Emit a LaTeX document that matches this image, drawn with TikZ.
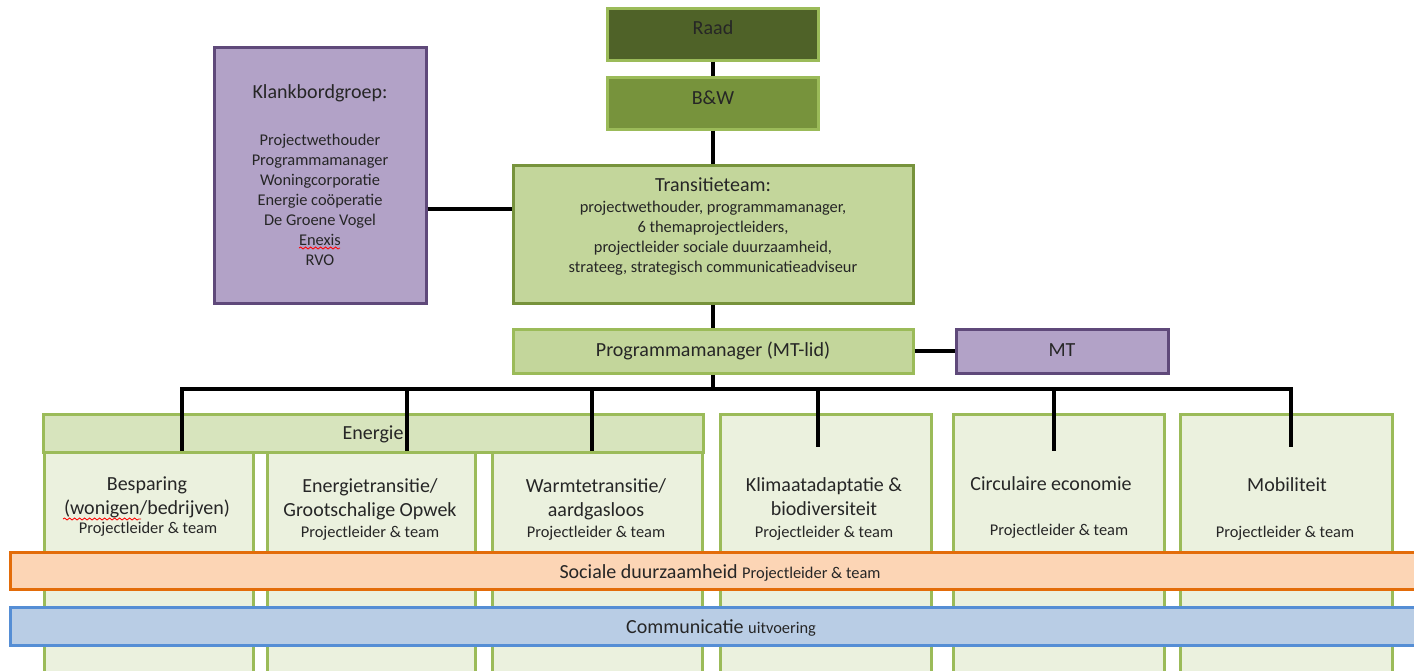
\documentclass[tikz,border=0pt]{standalone}
\usepackage{fontspec}
\setmainfont{Carlito}
\usetikzlibrary{decorations.pathmorphing}
\newcommand\bigtxtfont{\fontsize{10}{12}\selectfont}
\newcommand\smalltxtfont{\fontsize{8.2}{10}\selectfont}
\definecolor{lgreen}{HTML}{9BBB59}
\definecolor{mgreen}{HTML}{77933C}
\definecolor{raadfill}{HTML}{4F6228}
\definecolor{bwfill}{HTML}{77933C}
\definecolor{tfill}{HTML}{C3D69B}
\definecolor{efill}{HTML}{D7E4BD}
\definecolor{sfill}{HTML}{EBF1DE}
\definecolor{pfill}{HTML}{B2A2C7}
\definecolor{pdraw}{HTML}{5F497A}
\definecolor{ofill}{HTML}{FCD5B5}
\definecolor{odraw}{HTML}{E36C09}
\definecolor{bfill}{HTML}{B9CDE5}
\definecolor{bdraw}{HTML}{558ED5}
\begin{document}
\begin{tikzpicture}[x=0.5pt,y=-0.5pt,
  box/.style={rectangle,draw,line width=1.5pt,inner sep=0pt},
  subbox/.style={box,draw=lgreen,fill=sfill},
  conn/.style={line width=1.6pt,black},
  txt/.style={inner sep=0pt,anchor=base,font=\bigtxtfont,align=center,text=black!85},
  stxt/.style={inner sep=0pt,anchor=base,font=\smalltxtfont,align=center,text=black!85},
  squig/.style={red,line width=0.4pt,decorate,decoration={snake,amplitude=0.5pt,segment length=2.5pt}}]
\useasboundingbox (0,0) rectangle (1414,670);
\clip (0,0) rectangle (1414,670);

% top boxes
\node[box,draw=lgreen,fill=raadfill,minimum width=105.5pt,minimum height=26pt] (raad) at (713,34) {};
\node[txt] (raadT) at (713,34) {Raad};
\node[box,draw=lgreen,fill=bwfill,minimum width=105.5pt,minimum height=26pt] (bw) at (713,103) {};
\node[txt] (bwT) at (713,104) {B\&W};
\node[box,draw=mgreen,fill=tfill,minimum width=200pt,minimum height=69pt] (trans) at (713,234) {};
\node[stxt,font=\fontsize{8.2}{9.85}\selectfont] (transT) at (713,272) {{\bigtxtfont Transitieteam:}\\[0.65pt]
projectwethouder, programmamanager,\\
6 themaprojectleiders,\\
projectleider sociale duurzaamheid,\\
strateeg, strategisch communicatieadviseur};
\node[box,draw=pdraw,fill=pfill,minimum width=106pt,minimum height=128pt] (klank) at (320,175) {};
\node[stxt] (klankT) at (320,265) {{\bigtxtfont Klankbordgroep:}\\[13.5pt]
Projectwethouder\\
Programmamanager\\
Woningcorporatie\\
Energie coöperatie\\
De Groene Vogel\\
Enexis\\
RVO};
\draw[squig] (299,248) -- (340,248);

\node[box,draw=lgreen,fill=tfill,minimum width=200pt,minimum height=22pt] (prog) at (713,351) {};
\node[txt] (progT) at (713,356) {Programmamanager (MT-lid)};
\node[box,draw=pdraw,fill=pfill,minimum width=106pt,minimum height=22pt] (mt) at (1062,351) {};
\node[txt] (mtT) at (1062,356) {MT};

% lower boxes
\node[subbox,minimum width=104.5pt,minimum height=119pt] (besp) at (148.5,571) {};
\node[subbox,minimum width=104pt,minimum height=119pt] (ener) at (371,571) {};
\node[subbox,minimum width=105pt,minimum height=119pt] (warm) at (597,571) {};
\node[box,draw=lgreen,fill=efill,minimum width=330pt,minimum height=19pt] (energie) at (373,433) {};
\node[txt] (energieT) at (373,439) {Energie};
\node[subbox,minimum width=105.5pt,minimum height=138pt] (klim) at (825.5,552) {};
\node[subbox,minimum width=105.5pt,minimum height=138pt] (circ) at (1058.5,552) {};
\node[subbox,minimum width=106pt,minimum height=138pt] (mob) at (1286,552) {};

\node[txt] (bespT) at (147,514) {Besparing\\(wonigen/bedrijven)};
\draw[squig] (63,519) -- (141,519);
\node[stxt] (bespP) at (148,533) {Projectleider \& team};
\node[txt] (enerT) at (370,516) {Energietransitie/\\Grootschalige Opwek};
\node[stxt] (enerP) at (370,537) {Projectleider \& team};
\node[txt] (warmT) at (596,516) {Warmtetransitie/\\aardgasloos};
\node[stxt] (warmP) at (596,537) {Projectleider \& team};
\node[txt] (klimT) at (824,515) {Klimaatadaptatie \&\\biodiversiteit};
\node[stxt] (klimP) at (824,537) {Projectleider \& team};
\node[txt] (circT) at (1051,490) {Circulaire economie};
\node[stxt] (circP) at (1059,535) {Projectleider \& team};
\node[txt] (mobT) at (1287,491) {Mobiliteit};
\node[stxt] (mobP) at (1285,537) {Projectleider \& team};

% bars
\node[box,draw=odraw,fill=ofill,minimum width=712pt,minimum height=18.5pt] (soc) at (722,570.5) {};
\node[txt] (socT) at (720,578) {Sociale duurzaamheid {\smalltxtfont Projectleider \& team}};
\node[box,draw=bdraw,fill=bfill,minimum width=712pt,minimum height=19pt] (comm) at (722,626) {};
\node[txt] (commT) at (721,633) {Communicatie {\smalltxtfont uitvoering}};

% connectors
\draw[conn] (raad.south) -- (bw.north);
\draw[conn] (bw.south) -- (trans.north);
\draw[conn] ([yshift=-17pt]klank.east) -- ([yshift=-17pt]klank.east -| trans.west);
\draw[conn] (trans.south) -- (prog.north);
\draw[conn] (prog) -- (mt);
\coordinate (d1) at (182,389);
\coordinate (d2) at (407,389);
\coordinate (d3) at (592,389);
\coordinate (d4) at (818,389);
\coordinate (d5) at (1054,389);
\coordinate (d6) at (1291,389);
\draw[conn] (prog.south) -- (prog.south |- d1);
\draw[conn] (d1 |- besp.north) -- (d1) -- (d6) -- ++(0,58);
\draw[conn] (d2) -- (d2 |- ener.north);
\draw[conn] (d3) -- (d3 |- warm.north);
\draw[conn] (d4) -- ++(0,58);
\draw[conn] (d5) -- ++(0,62);
\end{tikzpicture}
\end{document}
